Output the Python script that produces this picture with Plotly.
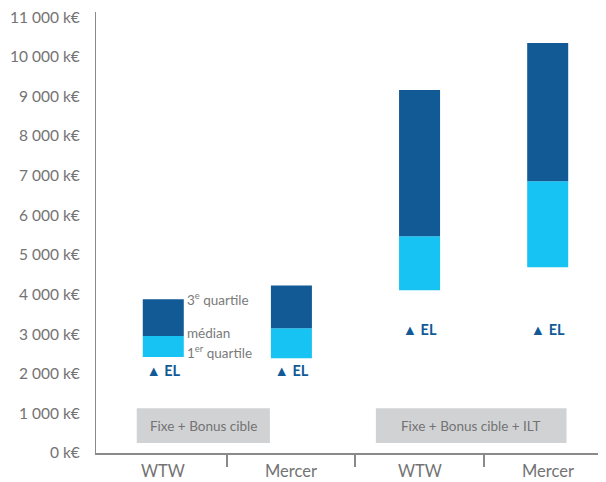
import plotly.graph_objects as go

categories = ["WTW", "Mercer", "WTW", "Mercer"]
q1 = [2420, 2390, 4110, 4690]
median = [2950, 3150, 5470, 6860]
q3 = [3880, 4230, 9160, 10350]
el_level = [2040, 2040, 3080, 3080]
el_label = "▲ EL"
groups = ["Fixe + Bonus cible", "Fixe + Bonus cible + ILT"]
y_ticks = list(range(0, 11001, 1000))
y_tick_labels = [f"{v:,}".replace(",", " ") + " k€" for v in y_ticks]

DARK = "#115a96"
LIGHT = "#17c3f3"
GREY_TXT = "#737373"
FONT = "Lato"

x = list(range(len(categories)))

fig = go.Figure()
fig.add_trace(go.Bar(
    x=x, y=[m - a for m, a in zip(median, q1)], base=q1,
    marker=dict(color=LIGHT, line=dict(width=0)), width=0.32,
    showlegend=False, hoverinfo="skip"))
fig.add_trace(go.Bar(
    x=x, y=[b - m for b, m in zip(q3, median)], base=median,
    marker=dict(color=DARK, line=dict(width=0)), width=0.32,
    showlegend=False, hoverinfo="skip"))
fig.add_trace(go.Scatter(
    x=x, y=el_level, mode="text", text=[f"<b>{el_label}</b>"] * len(x),
    textfont=dict(family=FONT, size=14.5, color=DARK),
    showlegend=False, hoverinfo="skip"))

# group boxes
box_spans = [(-0.207, 0.832), (1.659, 3.147)]
for (x0, x1), g in zip(box_spans, groups):
    fig.add_shape(type="rect", xref="x", yref="y", x0=x0, x1=x1, y0=255, y1=1130,
                  fillcolor="#d1d2d4", line=dict(width=0), layer="below")
    fig.add_annotation(x=(x0 + x1) / 2, y=690, xref="x", yref="y", text=g,
                       showarrow=False, font=dict(family=FONT, size=13.5, color=GREY_TXT))

# quartile labels next to first bar
for val, txt, ysh in [(q3[0], "3<sup>e</sup> quartile", 0),
                      (median[0], "médian", 3),
                      (q1[0], "1<sup>er</sup> quartile", 5)]:
    fig.add_annotation(x=0.16, y=val, xref="x", yref="y", text=txt, showarrow=False,
                       xanchor="left", yanchor="middle", xshift=1, yshift=ysh,
                       font=dict(family=FONT, size=13.5, color="#7a7a7a"))

# category labels
for i, c in enumerate(categories):
    fig.add_annotation(x=i, y=0, xref="x", yref="paper", text=c, showarrow=False,
                       yanchor="middle", yshift=-18,
                       font=dict(family=FONT, size=16.5, color=GREY_TXT))

# page has an 8px body margin: compensate so the plot lands at the reference position
fig.update_layout(
    width=598, height=474,
    margin=dict(l=88, r=0, t=4, b=29),
    paper_bgcolor="white", plot_bgcolor="white",
    barmode="overlay",
    font=dict(family=FONT, color=GREY_TXT),
    xaxis=dict(range=[-0.525, 3.455], showgrid=False, zeroline=False,
               showline=True, linecolor="#8a8a8a", linewidth=2,
               tickvals=[0.5, 1.5, 2.5], ticktext=["", "", ""],
               ticks="outside", ticklen=12, tickwidth=1.5, tickcolor="#8a8a8a"),
    yaxis=dict(range=[0, 11130], showgrid=False, zeroline=False,
               showline=True, linecolor="#8a8a8a", linewidth=1.2,
               tickvals=y_ticks, ticktext=y_tick_labels, ticks="",
               ticklabelstandoff=12, ticklabeloverflow="allow",
               tickfont=dict(family=FONT, size=15.5, color=GREY_TXT)),
)

fig.write_html("out.html")
